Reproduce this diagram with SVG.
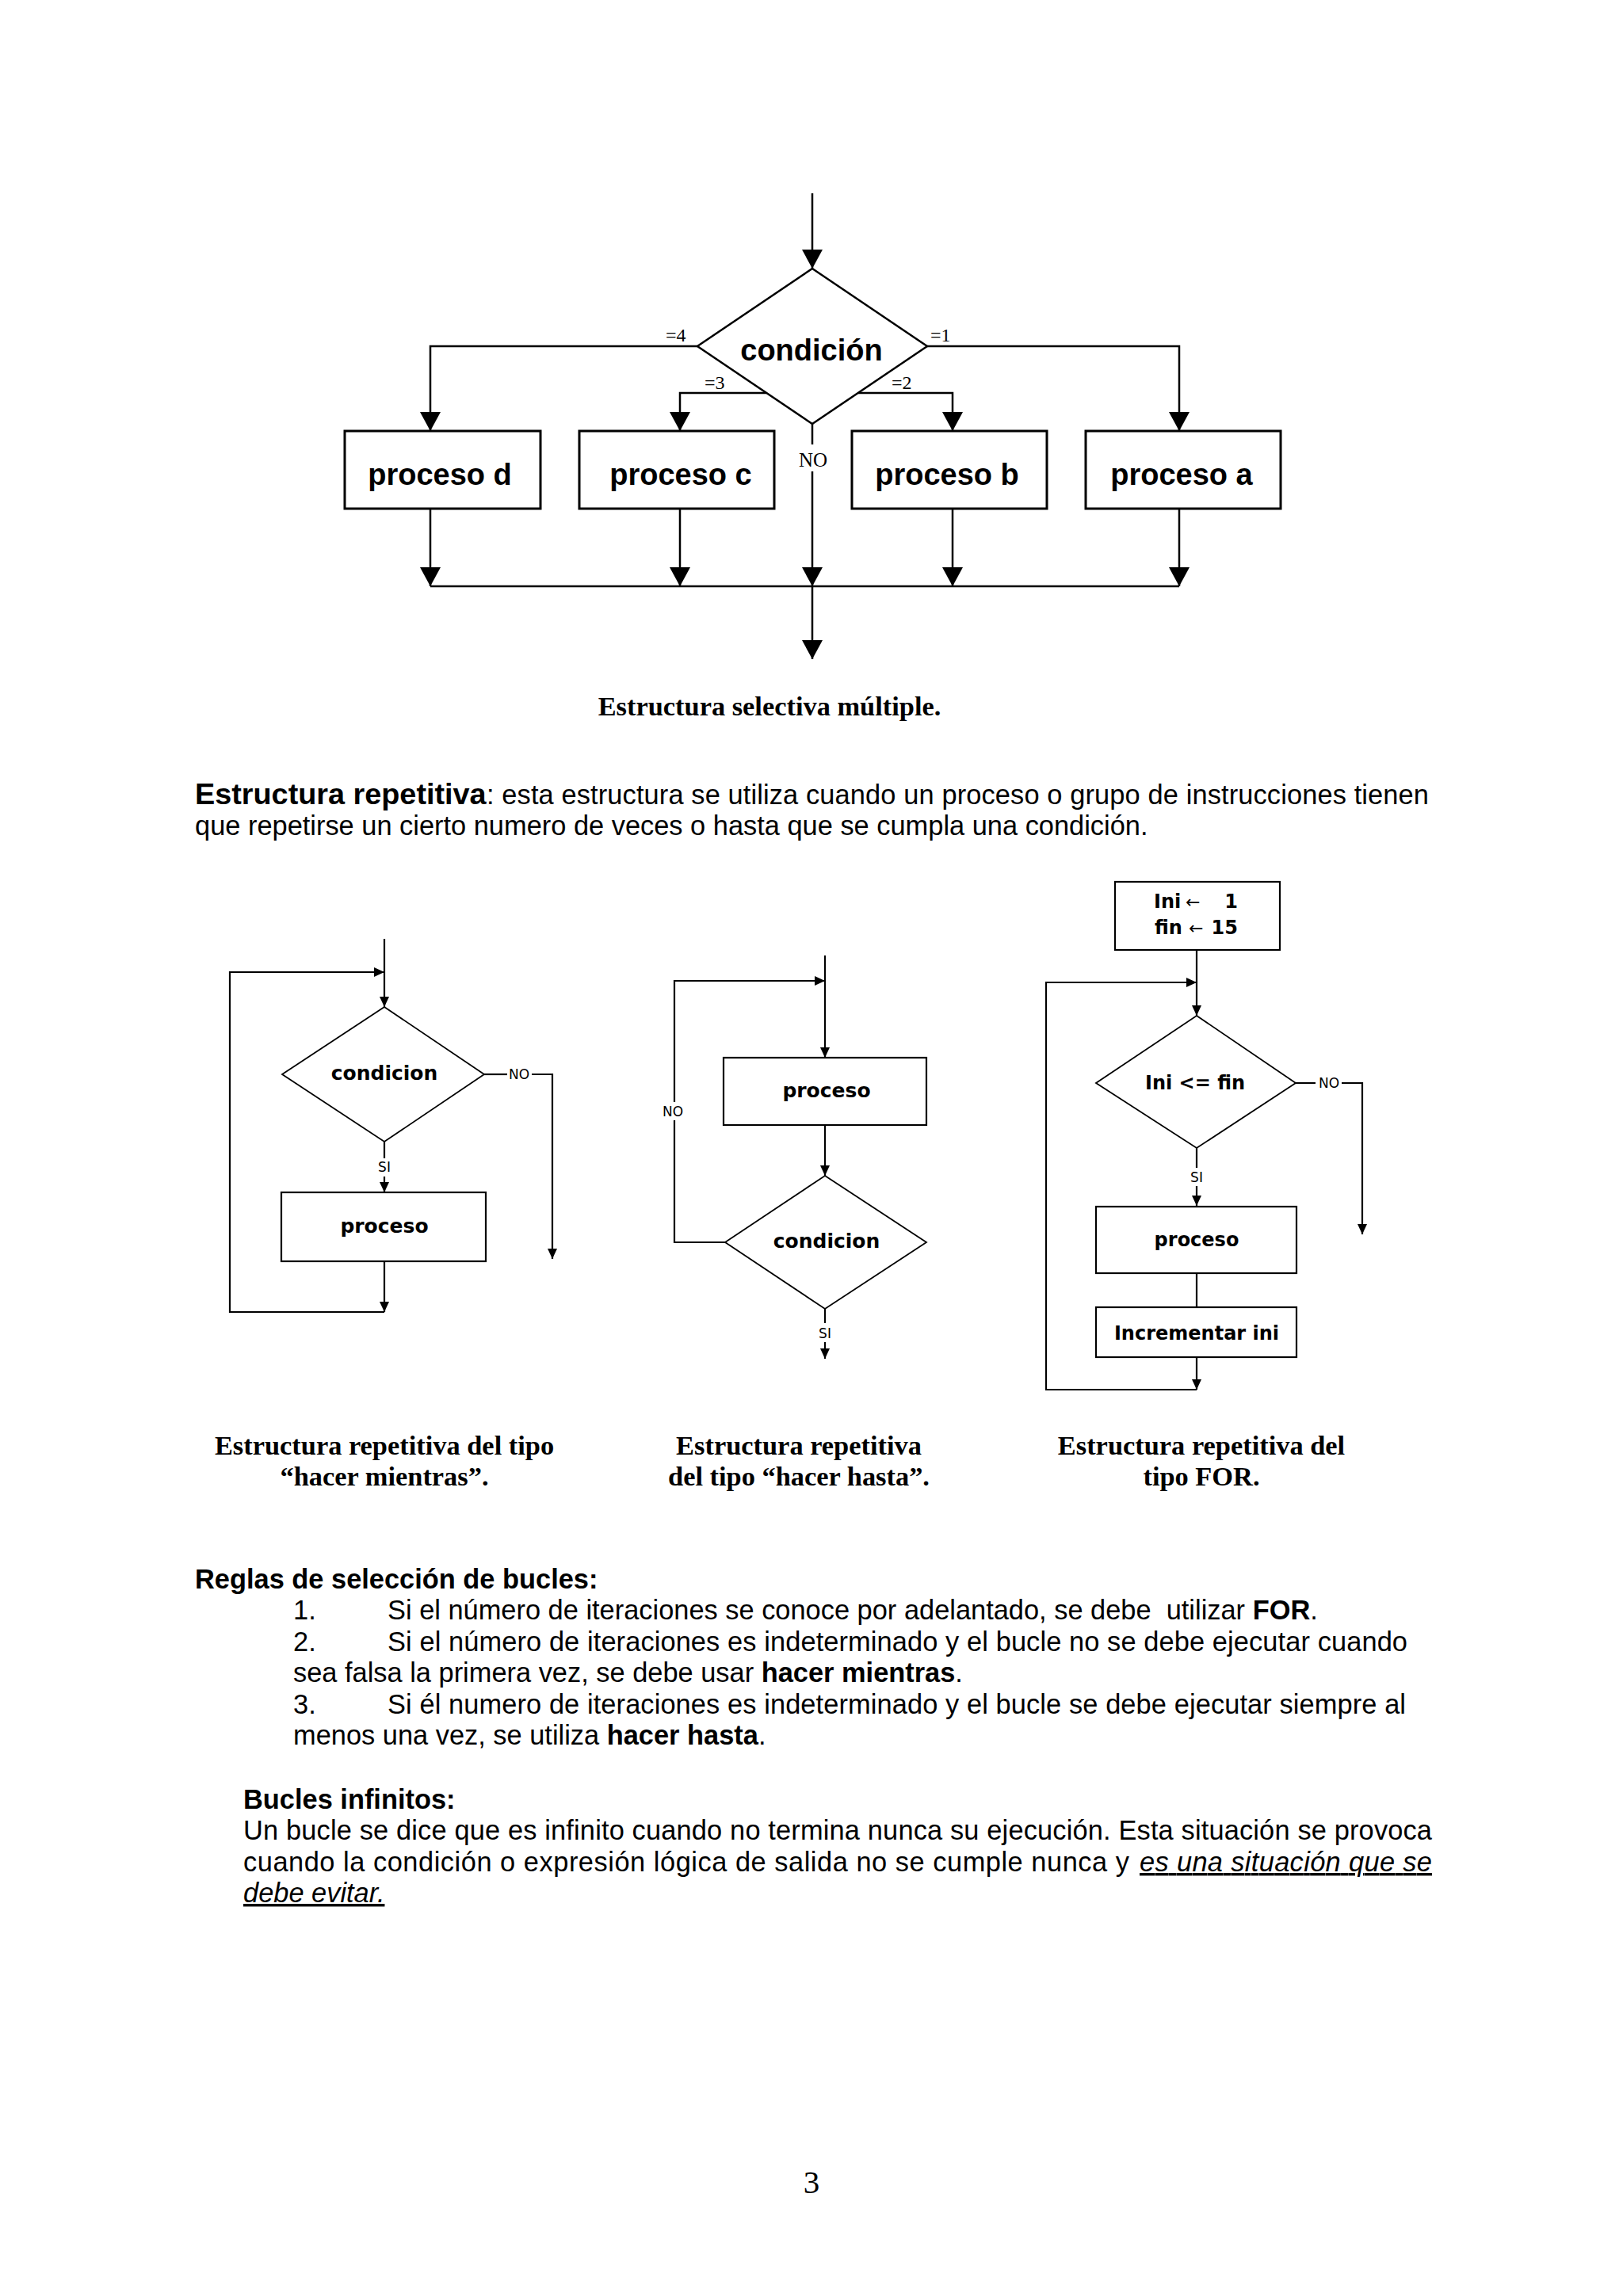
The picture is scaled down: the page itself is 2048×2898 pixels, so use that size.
<svg xmlns="http://www.w3.org/2000/svg" width="2048" height="2898" viewBox="0 0 2048 2898">
<style>
.bg{fill:#fff}
.ln{stroke:#000;stroke-width:2.5;fill:none}
.box{stroke:#000;stroke-width:3;fill:#fff}
.sln{stroke:#000;stroke-width:2.2;fill:none}
.sbox{stroke:#000;stroke-width:2.2;fill:#fff}
.sdia{stroke:#000;stroke-width:1.8;fill:#fff}
.big{font-family:"Liberation Sans",Arial,sans-serif;font-weight:bold;font-size:38px}
.tlab{font-family:"Liberation Serif","Times New Roman",serif;font-size:24px}
.tno{font-family:"Liberation Serif","Times New Roman",serif;font-size:25px}
.sm{font-family:"DejaVu Sans",Verdana,sans-serif;font-weight:bold;font-size:25px}
.sm2{font-family:"DejaVu Sans",Verdana,sans-serif;font-weight:bold;font-size:24px}
.arr{font-family:"DejaVu Sans",sans-serif;font-size:22px}
.lab{font-family:"DejaVu Sans",Verdana,sans-serif;font-size:17px}
.cap{font-family:"Liberation Serif","Times New Roman",serif;font-weight:bold;font-size:34.4px}
.body{font-family:"Liberation Sans",Arial,sans-serif;font-size:34.4px}
.head{font-family:"Liberation Sans",Arial,sans-serif;font-size:37.8px;font-weight:bold}
.b{font-weight:bold}
.iu{font-style:italic;text-decoration:underline}
.mid{text-anchor:middle}
.end{text-anchor:end}
</style>
<defs>
<marker id="ahB" markerUnits="userSpaceOnUse" markerWidth="24" markerHeight="26" viewBox="0 0 24 26" refX="24" refY="13" orient="auto"><path d="M0,0 L24,13 L0,26 Z" fill="#000"/></marker>
<marker id="ahS" markerUnits="userSpaceOnUse" markerWidth="13" markerHeight="12" viewBox="0 0 13 12" refX="13" refY="6" orient="auto"><path d="M0,0 L13,6 L0,12 Z" fill="#000"/></marker>
</defs>
<rect class="bg" x="0" y="0" width="2048" height="2898"/>

<!-- ===== Estructura selectiva multiple ===== -->
<g id="connectors-multiple">
<path class="ln" d="M1025,244 V339" marker-end="url(#ahB)"/>
<path class="ln" d="M880,437 H543 V544" marker-end="url(#ahB)"/>
<path class="ln" d="M1170,437 H1488 V544" marker-end="url(#ahB)"/>
<path class="ln" d="M967,496 H858 V544" marker-end="url(#ahB)"/>
<path class="ln" d="M1083,496 H1202 V544" marker-end="url(#ahB)"/>
<path class="ln" d="M1025,535 V561"/>
<path class="ln" d="M1025,595 V740" marker-end="url(#ahB)"/>
<path class="ln" d="M543,642 V740" marker-end="url(#ahB)"/>
<path class="ln" d="M858,642 V740" marker-end="url(#ahB)"/>
<path class="ln" d="M1202,642 V740" marker-end="url(#ahB)"/>
<path class="ln" d="M1488,642 V740" marker-end="url(#ahB)"/>
<path class="ln" d="M543,740 H1488"/>
<path class="ln" d="M1025,740 V832" marker-end="url(#ahB)"/>
<text class="tlab" x="840" y="431">=4</text>
<text class="tlab" x="1174" y="431">=1</text>
<text class="tlab" x="889" y="491">=3</text>
<text class="tlab" x="1125" y="491">=2</text>
<text class="tno mid" x="1026" y="589">NO</text>
</g>
<g id="node-condicion">
<polygon class="ln" points="1025,339 1170,437 1025,535 880,437"/>
<text class="big mid" x="1024" y="455">condición</text>
</g>
<g id="node-proceso-d">
<rect class="box" x="435" y="544" width="247" height="98"/>
<text class="big mid" x="555" y="612">proceso d</text>
</g>
<g id="node-proceso-c">
<rect class="box" x="731" y="544" width="246" height="98"/>
<text class="big mid" x="859" y="612">proceso c</text>
</g>
<g id="node-proceso-b">
<rect class="box" x="1075" y="544" width="246" height="98"/>
<text class="big mid" x="1195" y="612">proceso b</text>
</g>
<g id="node-proceso-a">
<rect class="box" x="1370" y="544" width="246" height="98"/>
<text class="big mid" x="1491" y="612">proceso a</text>
</g>
<text class="cap mid" x="971" y="903">Estructura selectiva múltiple.</text>

<!-- ===== Paragraph ===== -->
<text class="head" x="246" y="1015">Estructura repetitiva</text>
<text class="body" x="614" y="1015" textLength="1189" lengthAdjust="spacing">: esta estructura se utiliza cuando un proceso o grupo de instrucciones tienen</text>
<text class="body" x="246" y="1054">que repetirse un cierto numero de veces o hasta que se cumpla una condición.</text>

<!-- ===== Hacer mientras ===== -->
<g id="connectors-mientras">
<path class="sln" d="M485,1185 V1271" marker-end="url(#ahS)"/>
<path class="sln" d="M485,1441 V1462"/>
<path class="sln" d="M485,1485 V1505" marker-end="url(#ahS)"/>
<path class="sln" d="M611,1356 H640"/>
<path class="sln" d="M671,1356 H697 V1589" marker-end="url(#ahS)"/>
<path class="sln" d="M485,1592 V1656" marker-end="url(#ahS)"/>
<path class="sln" d="M485,1656 H290 V1227 H485" marker-end="url(#ahS)"/>
<text class="lab mid" x="485" y="1479">SI</text>
<text class="lab mid" x="655" y="1362">NO</text>
</g>
<g id="node-mientras-condicion">
<polygon class="sdia" points="485,1271 611,1356 485,1441 356,1356"/>
<text class="sm mid" x="485" y="1363">condicion</text>
</g>
<g id="node-mientras-proceso">
<rect class="sbox" x="355" y="1505" width="258" height="87"/>
<text class="sm mid" x="485" y="1556">proceso</text>
</g>

<!-- ===== Hacer hasta ===== -->
<g id="connectors-hasta">
<path class="sln" d="M1041,1206 V1335" marker-end="url(#ahS)"/>
<path class="sln" d="M1041,1420 V1484" marker-end="url(#ahS)"/>
<path class="sln" d="M915,1568 H851 V1414"/>
<path class="sln" d="M851,1391 V1238 H1041" marker-end="url(#ahS)"/>
<path class="sln" d="M1041,1652 V1670"/>
<path class="sln" d="M1041,1694 V1715" marker-end="url(#ahS)"/>
<text class="lab mid" x="849" y="1409">NO</text>
<text class="lab mid" x="1041" y="1689">SI</text>
</g>
<g id="node-hasta-proceso">
<rect class="sbox" x="913" y="1335" width="256" height="85"/>
<text class="sm mid" x="1043" y="1385">proceso</text>
</g>
<g id="node-hasta-condicion">
<polygon class="sdia" points="1041,1484 1169,1568 1041,1652 915,1568"/>
<text class="sm mid" x="1043" y="1575">condicion</text>
</g>

<!-- ===== FOR ===== -->
<g id="connectors-for">
<path class="sln" d="M1510,1199 V1282" marker-end="url(#ahS)"/>
<path class="sln" d="M1510,1449 V1474"/>
<path class="sln" d="M1510,1497 V1522" marker-end="url(#ahS)"/>
<path class="sln" d="M1510,1607 V1650"/>
<path class="sln" d="M1510,1713 V1754" marker-end="url(#ahS)"/>
<path class="sln" d="M1510,1754 H1320 V1240 H1510" marker-end="url(#ahS)"/>
<path class="sln" d="M1635,1367 H1660"/>
<path class="sln" d="M1693,1367 H1719 V1558" marker-end="url(#ahS)"/>
<text class="lab mid" x="1677" y="1373">NO</text>
<text class="lab mid" x="1510" y="1492">SI</text>
</g>
<g id="node-for-init">
<rect class="sbox" x="1407" y="1113" width="208" height="86"/>
<text class="sm2" x="1456" y="1146">Ini</text>
<text class="arr" x="1496" y="1146">←</text>
<text class="sm2 end" x="1562" y="1146">1</text>
<text class="sm2" x="1457" y="1179">fin</text>
<text class="arr" x="1500" y="1179">←</text>
<text class="sm2 end" x="1562" y="1179">15</text>
</g>
<g id="node-for-condicion">
<polygon class="sdia" points="1510,1282 1635,1367 1510,1449 1383,1367"/>
<text class="sm2 mid" x="1508" y="1375">Ini &lt;= fin</text>
</g>
<g id="node-for-proceso">
<rect class="sbox" x="1383" y="1523" width="253" height="84"/>
<text class="sm2 mid" x="1510" y="1573">proceso</text>
</g>
<g id="node-for-incrementar">
<rect class="sbox" x="1383" y="1650" width="253" height="63"/>
<text class="sm2 mid" x="1510" y="1691">Incrementar ini</text>
</g>

<!-- ===== Captions ===== -->
<text class="cap mid" x="485" y="1836">Estructura repetitiva del tipo</text>
<text class="cap mid" x="485" y="1875">“hacer mientras”.</text>
<text class="cap mid" x="1008" y="1836">Estructura repetitiva</text>
<text class="cap mid" x="1008" y="1875">del tipo “hacer hasta”.</text>
<text class="cap mid" x="1516" y="1836">Estructura repetitiva del</text>
<text class="cap mid" x="1516" y="1875">tipo FOR.</text>

<!-- ===== Reglas ===== -->
<text class="body b" x="246" y="2005">Reglas de selección de bucles:</text>
<text class="body" x="370" y="2044">1.</text>
<text class="body" x="489" y="2044" xml:space="preserve">Si el número de iteraciones se conoce por adelantado, se debe  utilizar <tspan class="b">FOR</tspan>.</text>
<text class="body" x="370" y="2083.5">2.</text>
<text class="body" x="489" y="2083.5" textLength="1287" lengthAdjust="spacing">Si el número de iteraciones es indeterminado y el bucle no se debe ejecutar cuando</text>
<text class="body" x="370" y="2123">sea falsa la primera vez, se debe usar <tspan class="b">hacer mientras</tspan>.</text>
<text class="body" x="370" y="2162.5">3.</text>
<text class="body" x="489" y="2162.5" textLength="1285" lengthAdjust="spacing">Si él numero de iteraciones es indeterminado y el bucle se debe ejecutar siempre al</text>
<text class="body" x="370" y="2202">menos una vez, se utiliza <tspan class="b">hacer hasta</tspan>.</text>

<!-- ===== Bucles infinitos ===== -->
<text class="body b" x="307" y="2283">Bucles infinitos:</text>
<text class="body" x="307" y="2322" textLength="1500" lengthAdjust="spacing">Un bucle se dice que es infinito cuando no termina nunca su ejecución. Esta situación se provoca</text>
<text class="body" x="307" y="2362" textLength="1118" lengthAdjust="spacing">cuando la condición o expresión lógica de salida no se cumple nunca y</text>
<text class="body iu" x="1438" y="2362" textLength="369" lengthAdjust="spacing">es una situación que se</text>
<text class="body iu" x="307" y="2401">debe evitar.</text>

<text x="1024" y="2768" font-family="Liberation Serif,'Times New Roman',serif" font-size="41" text-anchor="middle">3</text>
</svg>
